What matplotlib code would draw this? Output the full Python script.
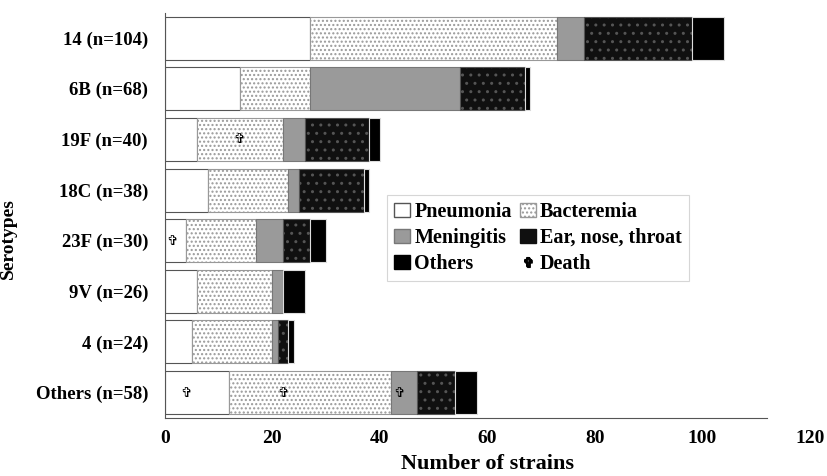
import matplotlib.pyplot as plt
from matplotlib.patches import Patch
from matplotlib.lines import Line2D
import numpy as np

serotypes = ["14 (n=104)", "6B (n=68)", "19F (n=40)", "18C (n=38)",
             "23F (n=30)", "9V (n=26)", "4 (n=24)", "Others (n=58)"]

pneumonia = [27, 14, 6, 8, 4, 6, 5, 12]
bacteremia = [46, 13, 16, 15, 13, 14, 15, 30]
meningitis = [5, 28, 4, 2, 5, 2, 1, 5]
ent = [20, 12, 12, 12, 5, 0, 2, 7]
others = [6, 1, 2, 1, 3, 4, 1, 4]

# death markers: (row index, x position)
death_row = [2, 4, 7, 7, 7]
death_x = [13.8, 1.3, 4, 22, 43.5]

plt.rcParams['font.family'] = ['Liberation Serif', 'DejaVu Serif']
plt.rcParams['font.weight'] = 'bold'

fig = plt.figure(figsize=(8.28, 4.76), dpi=100)
ax = fig.add_axes([0.199, 0.122, 0.779, 0.851])

y = np.arange(len(serotypes))
h = 0.85
left = np.zeros(len(serotypes))

styles = [
    ("Pneumonia", pneumonia, dict(facecolor="white", edgecolor="#555555")),
    ("Bacteremia", bacteremia, dict(facecolor="white", edgecolor="#999999", hatch="....")),
    ("Meningitis", meningitis, dict(facecolor="#9a9a9a", edgecolor="#777777")),
    ("Ear, nose, throat", ent, dict(facecolor="#101010", edgecolor="#555555", hatch="..")),
    ("Others", others, dict(facecolor="black", edgecolor="#dddddd")),
]

for name, vals, st in styles:
    ax.barh(y, vals, left=left, height=h, linewidth=0.8, **st)
    left += np.array(vals)

for r, x in zip(death_row, death_x):
    ax.text(x, r, "\u271e", family="DejaVu Sans", fontweight="normal",
            fontsize=10, ha="center", va="center", color="black")

ax.set_xlim(0, 120)
ax.set_ylim(len(serotypes) - 0.5, -0.5)
ax.set_yticks(y)
ax.set_yticklabels(serotypes, fontsize=13.5, fontweight="bold")
ax.set_xticks([0, 20, 40, 60, 80, 100, 120])
ax.tick_params(axis="x", labelsize=14, length=0, pad=9)
ax.tick_params(axis="y", length=0, pad=12)
for lab in ax.get_xticklabels():
    lab.set_fontweight("bold")

ax.spines["top"].set_visible(False)
ax.spines["right"].set_visible(False)
ax.spines["left"].set_color("#555555")
ax.spines["bottom"].set_color("#555555")
ax.spines["bottom"].set_bounds(0, 112)

ax.set_xlabel("Number of strains", fontsize=16, fontweight="bold", labelpad=5)
ax.set_ylabel("Serotypes", fontsize=14, fontweight="bold")
ax.yaxis.set_label_coords(-0.229, 0.444)

handles = [
    Patch(facecolor="white", edgecolor="#555555", label="Pneumonia"),
    Patch(facecolor="#9a9a9a", edgecolor="#777777", label="Meningitis"),
    Patch(facecolor="black", edgecolor="black", label="Others"),
    Patch(facecolor="white", edgecolor="#999999", hatch="....", label="Bacteremia"),
    Patch(facecolor="#101010", edgecolor="#101010", label="Ear, nose, throat"),
    Line2D([], [], marker="$\u271e$", linestyle="none", color="black",
           markersize=7, label="Death"),
]
leg = ax.legend(handles=handles, ncol=2, loc="upper left",
                bbox_to_anchor=(0.329, 0.576), fontsize=14.5,
                frameon=True, fancybox=False, handlelength=0.8,
                handleheight=0.7, columnspacing=0.4, handletextpad=0.2,
                labelspacing=0.3, borderpad=0.35)
leg.get_frame().set_edgecolor("#cccccc")
leg.get_frame().set_linewidth(0.8)
for t in leg.get_texts():
    t.set_fontweight("bold")

fig.savefig("out.png", dpi=100)
